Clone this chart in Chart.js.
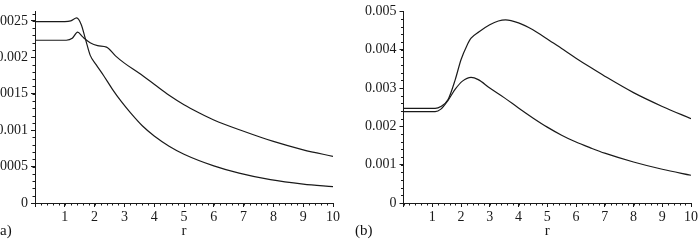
<!DOCTYPE html>
<html>
<head>
<meta charset="utf-8">
<script src="https://cdn.jsdelivr.net/npm/chart.js@4/dist/chart.umd.min.js"></script>
<style>
  body { margin: 0; background: #fff; width: 700px; height: 240px; overflow: hidden; position: relative; font-family: "Liberation Serif", serif; }
  .pane { position: absolute; top: 0; }
  .tag { position: absolute; top: 222px; font-size: 15px; color: #111; }
</style>
</head>
<body>
<div class="pane" style="left:-25px"><canvas id="chartA" width="375" height="240"></canvas></div>
<div class="pane" style="left:350px"><canvas id="chartB" width="350" height="240"></canvas></div>
<div class="tag" style="left:-5px">(a)</div>
<div class="tag" style="left:355px">(b)</div>

<script>
// panel (a)
let rA1 = [0, 1.0, 1.2, 1.4, 1.55, 1.7, 1.85, 2.05, 2.3, 2.6, 2.9, 3.2, 3.6, 4.0, 4.5, 5.0, 6.0, 6.85, 7.9, 9.0, 10]
let vA1 = [0.00249, 0.00249, 0.0025, 0.00254, 0.00245, 0.00224, 0.00203, 0.0019, 0.00175, 0.00156, 0.00139, 0.00124, 0.00106, 0.00092, 0.00078, 0.00067, 0.00051, 0.00041, 0.00032, 0.00026, 0.000225]
let rA2 = [0, 1.05, 1.25, 1.43, 1.6, 1.85, 2.1, 2.4, 2.7, 3.0, 3.5, 4.0, 4.5, 5.0, 5.5, 6.0, 7.0, 8.0, 9.0, 10]
let vA2 = [0.002234, 0.002234, 0.00226, 0.002345, 0.00228, 0.0022, 0.00216, 0.00214, 0.00202, 0.00192, 0.00178, 0.00163, 0.00148, 0.00135, 0.00124, 0.00114, 0.000985, 0.000845, 0.00073, 0.00064]

// panel (b)
let rB1 = [0, 1.1, 1.3, 1.55, 1.8, 2.0, 2.2, 2.35, 2.63, 3.0, 3.3, 3.55, 4.0, 4.5, 5.0, 5.5, 6.0, 6.5, 7.0, 8.0, 9.0, 10]
let vB1 = [0.00247, 0.00247, 0.00252, 0.0027, 0.00322, 0.00374, 0.0041, 0.0043, 0.00447, 0.00465, 0.00475, 0.00478, 0.0047, 0.00452, 0.00428, 0.00403, 0.00378, 0.00354, 0.00331, 0.00288, 0.00252, 0.0022]
let rB2 = [0, 1.1, 1.3, 1.55, 1.8, 2.05, 2.35, 2.6, 3.0, 3.5, 4.0, 4.5, 5.0, 5.5, 6.0, 6.5, 7.0, 8.0, 9.0, 10]
let vB2 = [0.002385, 0.002385, 0.00245, 0.00268, 0.00297, 0.00318, 0.00328, 0.00322, 0.003, 0.00275, 0.00248, 0.00222, 0.00198, 0.00177, 0.00159, 0.00144, 0.0013, 0.00107, 0.00088, 0.000724]

let xTicks = [0, 1, 2, 3, 4, 5, 6, 7, 8, 9, 10]
let xLabels = ['', '1', '2', '3', '4', '5', '6', '7', '8', '9', '10']
let yTicksA = [0, 0.0005, 0.001, 0.0015, 0.002, 0.0025]
let yLabelsA = ['0', '0.0005', '0.001', '0.0015', '0.002', '0.0025']
let yTicksB = [0, 0.001, 0.002, 0.003, 0.004, 0.005]
let yLabelsB = ['0', '0.001', '0.002', '0.003', '0.004', '0.005']

const ink = '#1a1a1a'
const tickFont = { family: 'Liberation Serif', size: 14 }

function pts(xs, ys) {
    return xs.map((x, i) => ({ x: x, y: ys[i] }))
}

function line(xs, ys) {
    return {
        data: pts(xs, ys),
        borderColor: ink,
        borderWidth: 1.2,
        pointRadius: 0,
        fill: false,
        cubicInterpolationMode: 'monotone'
    }
}

// small ticks between the labelled ones
const minorTicks = {
    id: 'minorTicks',
    afterDraw(chart, args, opts) {
        const ctx = chart.ctx
        const x = chart.scales.x
        const y = chart.scales.y
        ctx.save()
        ctx.strokeStyle = ink
        ctx.lineWidth = 1
        ctx.beginPath()
        let nx = Math.round((x.max - x.min) / opts.xStep)
        for (let i = 0; i <= nx; i++) {
            let px = Math.round(x.getPixelForValue(x.min + i * opts.xStep)) + 0.5
            ctx.moveTo(px, x.top)
            ctx.lineTo(px, x.top + 2.5)
        }
        let ny = Math.floor((y.max - y.min) / opts.yStep + 1e-6)
        for (let i = 0; i <= ny; i++) {
            let py = Math.round(y.getPixelForValue(y.min + i * opts.yStep)) + 0.5
            ctx.moveTo(y.right, py)
            ctx.lineTo(y.right - 2.5, py)
        }
        ctx.stroke()
        ctx.restore()
    }
}

function makeChart(id, sets, yMax, yTicks, yLabels, yWidth, pad, yStep) {
    const ctx = document.getElementById(id).getContext('2d')
    return new Chart(ctx, {
        type: 'line',
        data: { datasets: sets },
        plugins: [minorTicks],
        options: {
            responsive: false,
            animation: false,
            layout: { padding: pad },
            plugins: {
                legend: { display: false },
                tooltip: { enabled: false },
                minorTicks: { xStep: 0.2, yStep: yStep }
            },
            scales: {
                x: {
                    type: 'linear',
                    min: 0,
                    max: 10,
                    afterBuildTicks: s => { s.ticks = xTicks.map(v => ({ value: v })) },
                    afterFit: s => { s.height = 37 },
                    ticks: {
                        color: ink,
                        font: tickFont,
                        padding: 2,
                        maxRotation: 0,
                        callback: v => xLabels[xTicks.indexOf(v)]
                    },
                    grid: { drawOnChartArea: false, drawTicks: true, tickLength: 4, color: ink },
                    border: { display: true, color: ink, width: 1 },
                    title: { display: true, text: 'r', color: ink, font: { family: 'Liberation Serif', size: 15 }, padding: { top: 0, bottom: 0 } }
                },
                y: {
                    min: 0,
                    max: yMax,
                    afterBuildTicks: s => { s.ticks = yTicks.map(v => ({ value: v })) },
                    afterFit: s => { s.width = yWidth },
                    ticks: {
                        color: ink,
                        font: tickFont,
                        padding: 3,
                        callback: v => yLabels[yTicks.indexOf(v)]
                    },
                    grid: { drawOnChartArea: false, drawTicks: true, tickLength: 4, color: ink },
                    border: { display: true, color: ink, width: 1 }
                }
            }
        }
    })
}

makeChart('chartA', [line(rA1, vA1), line(rA2, vA2)], 0.00263, yTicksA, yLabelsA, 60,
    { top: 5, right: 17, left: 0, bottom: 0 }, 0.0001)
makeChart('chartB', [line(rB1, vB1), line(rB2, vB2)], 0.005, yTicksB, yLabelsB, 53.5,
    { top: 9, right: 7, left: 0, bottom: 0 }, 0.0002)
</script>
</body>
</html>
